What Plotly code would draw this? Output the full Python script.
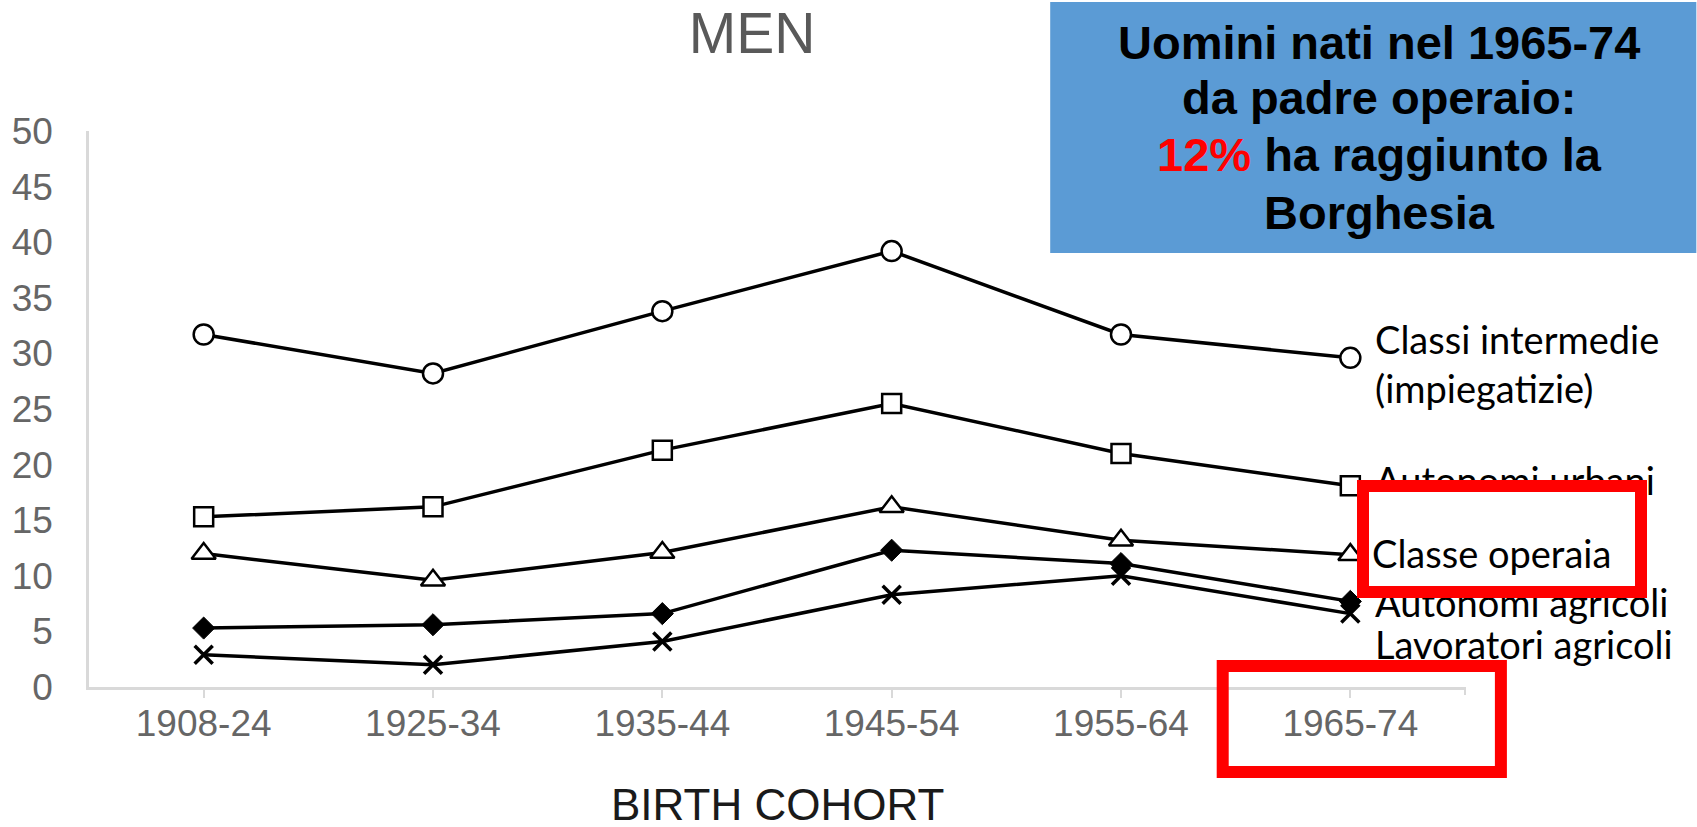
import plotly.graph_objects as go

cohorts = ["1908-24", "1925-34", "1935-44", "1945-54", "1955-64", "1965-74"]
classi_intermedie = [31.7, 28.2, 33.8, 39.2, 31.7, 29.6]
autonomi_urbani = [15.3, 16.2, 21.3, 25.5, 21.0, 18.1]
classe_operaia = [12.0, 9.6, 12.1, 16.2, 13.2, 11.9]
autonomi_agricoli = [5.3, 5.6, 6.6, 12.3, 11.1, 7.7]
lavoratori_agricoli = [2.9, 2.0, 4.1, 8.3, 10.0, 6.6]

y_ticks = list(range(0, 55, 5))

# plot area in pixels
L, R, T, B = 85, 1465, 131, 687
FW, FH = 1697, 827
W, H = R - L, B - T


def px(x):
    return (x - L) / W


def py(y):
    return (B - y) / H


LINE = dict(color="black", width=3.5)
fig = go.Figure()

series = [
    ("Classi intermedie", classi_intermedie,
     dict(symbol="circle", size=20, color="white", line=dict(color="black", width=2.5))),
    ("Autonomi urbani", autonomi_urbani,
     dict(symbol="square", size=19, color="white", line=dict(color="black", width=2.5))),
    ("Classe operaia", classe_operaia,
     dict(symbol="triangle-up", size=21, color="white", line=dict(color="black", width=2.5))),
    ("Autonomi agricoli", autonomi_agricoli,
     dict(symbol="diamond", size=17, color="black", line=dict(color="black", width=1))),
    ("Lavoratori agricoli", lavoratori_agricoli,
     dict(symbol="x-thin", size=18, color="black", line=dict(color="black", width=3.5))),
]
for name, vals, mk in series:
    fig.add_trace(go.Scatter(x=cohorts, y=vals, name=name, mode="lines+markers",
                             line=LINE, marker=mk, cliponaxis=False, hoverinfo="skip"))

GRAY = "#d9d9d9"
TICKFONT = dict(family="Liberation Sans, Arial, sans-serif", size=37, color="#666666")

fig.update_layout(
    width=FW, height=FH, autosize=False,
    margin=dict(l=L, r=FW - R, t=T, b=FH - B, pad=0),
    plot_bgcolor="white", paper_bgcolor="white",
    showlegend=False,
    title=dict(text="MEN", x=752 / FW, xref="container", xanchor="center",
               y=1 - 33 / FH, yref="container", yanchor="middle",
               font=dict(family="Liberation Sans, Arial, sans-serif", size=57, color="#595959")),
    xaxis=dict(type="category", range=[-0.5, 5.5], showline=True, linecolor=GRAY, linewidth=2.5,
               ticks="outside", ticklen=8, tickcolor=GRAY, tickwidth=2,
               showgrid=False, zeroline=False, tickfont=TICKFONT, ticklabelstandoff=-6),
    yaxis=dict(range=[0, 50], tickvals=y_ticks, showline=True, linecolor=GRAY, linewidth=2.5,
               ticks="", showgrid=False, zeroline=False, tickfont=TICKFONT,
               ticklabelstandoff=26),
)

shapes = []
# end tick of x axis
shapes.append(dict(type="line", xref="paper", yref="paper", x0=1, x1=1, y0=0, y1=-8 / H,
                   line=dict(color=GRAY, width=2)))
# blue box
shapes.append(dict(type="rect", xref="paper", yref="paper", x0=px(1049), x1=px(1697),
                   y0=py(253), y1=py(2), fillcolor="#5B9BD5", line=dict(width=0), layer="above"))
# red box around 1965-74
shapes.append(dict(type="rect", xref="paper", yref="paper", x0=px(1222), x1=px(1501),
                   y0=py(772), y1=py(666), line=dict(color="#FF0000", width=12), layer="above"))
fig.update_layout(shapes=shapes)

LABFONT = dict(family="Lato, sans-serif", size=38, color="black")
ann = []
# right-hand labels
ann.append(dict(text="Classi intermedie<br>(impiegatizie)", x=px(1373), y=py(363), xref="paper", yref="paper",
                xanchor="left", yanchor="middle", align="left", showarrow=False, font=LABFONT))
ann.append(dict(text="Autonomi urbani", x=px(1373), y=py(480), xref="paper", yref="paper",
                xanchor="left", yanchor="middle", align="left", showarrow=False, font=LABFONT))
ann.append(dict(text="Autonomi agricoli", x=px(1373), y=py(602), xref="paper", yref="paper",
                xanchor="left", yanchor="middle", align="left", showarrow=False, font=LABFONT))
ann.append(dict(text="Lavoratori agricoli", x=px(1373), y=py(644), xref="paper", yref="paper",
                xanchor="left", yanchor="middle", align="left", showarrow=False, font=LABFONT))
# red box with white fill (covers parts of neighbouring labels)
ann.append(dict(text=" ", x=px(1357), y=py(480), xref="paper", yref="paper",
                xanchor="left", yanchor="top", align="left",
                width=266, height=94, borderpad=0, borderwidth=12,
                bordercolor="#FF0000", bgcolor="white", showarrow=False, font=LABFONT))
ann.append(dict(text="Classe operaia", x=px(1370), y=py(553), xref="paper", yref="paper",
                xanchor="left", yanchor="middle", align="left", showarrow=False, font=LABFONT))
# blue box text
BOX = dict(family="Liberation Sans, Arial, sans-serif", size=47, color="black", weight="bold")
box_lines = ["Uomini nati nel 1965-74", "da padre operaio:",
             "<span style='color:#FF0000'>12%</span> ha raggiunto la", "Borghesia"]
box_y = [42, 98, 155, 212]
for t, yy in zip(box_lines, box_y):
    ann.append(dict(text="<b>" + t + "</b>", x=px(1379), y=py(yy),
                    xref="paper", yref="paper", xanchor="center", yanchor="middle",
                    showarrow=False, font=BOX))
# x axis title
ann.append(dict(text="BIRTH COHORT", x=0.5, y=py(804), xref="paper", yref="paper",
                xanchor="center", yanchor="middle", showarrow=False,
                font=dict(family="Liberation Sans, Arial, sans-serif", size=44, color="#1a1a1a")))
fig.update_layout(annotations=ann)

fig.write_html("out.html", config={"displayModeBar": False},
               post_script="document.body.style.margin='0';document.body.style.overflow='hidden';")
